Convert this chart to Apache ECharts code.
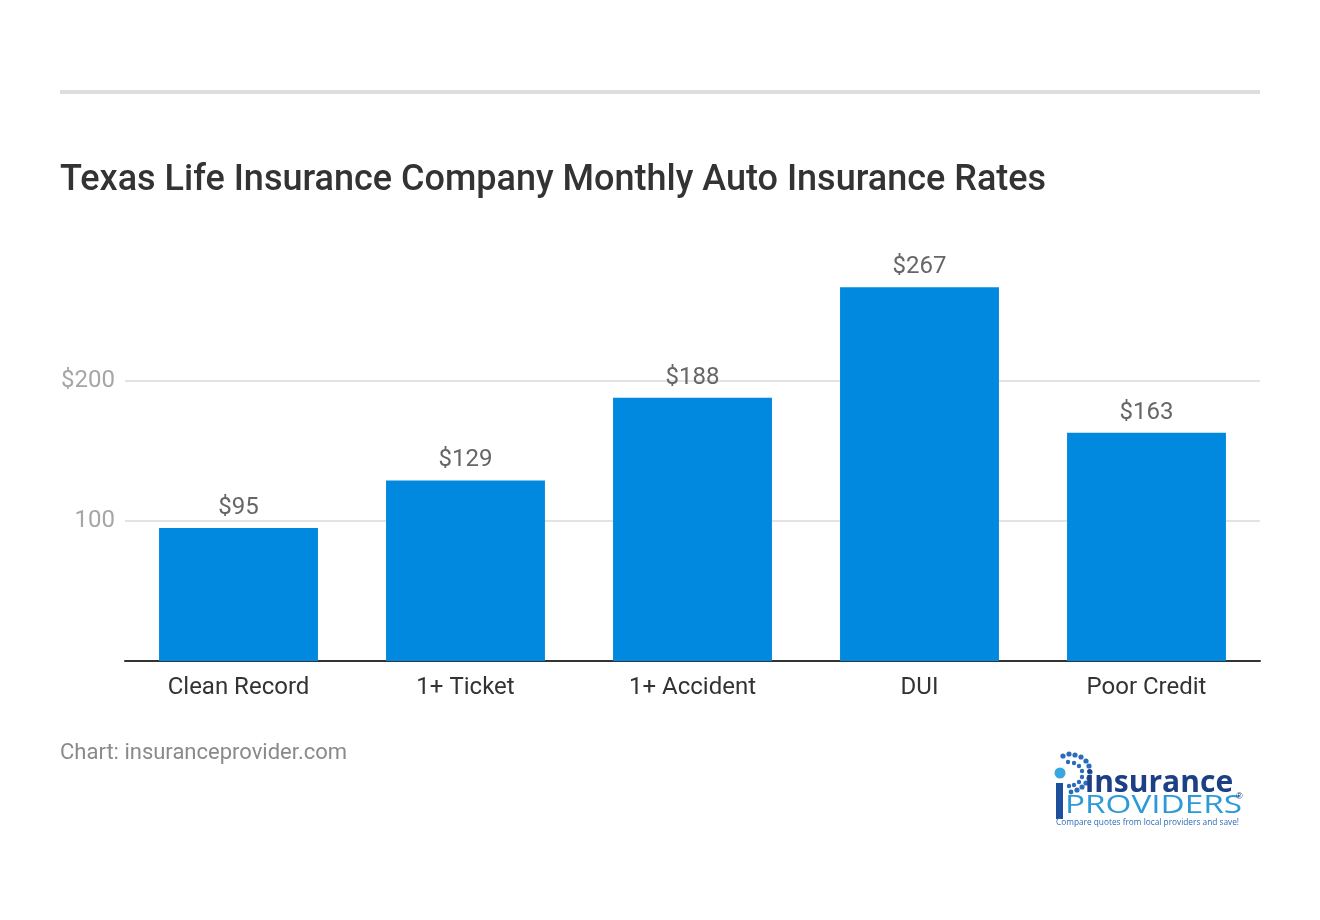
<!DOCTYPE html>
<html>
<head>
<meta charset="utf-8">
<script src="https://cdn.jsdelivr.net/npm/echarts@6/dist/echarts.min.js"></script>
<style>
html,body{margin:0;padding:0;background:#fff;}
#c{width:1320px;height:920px;}
</style>
</head>
<body>
<div id="c"></div>
<script>
const categories = ['Clean Record', '1+ Ticket', '1+ Accident', 'DUI', 'Poor Credit'];
const rates = [95, 129, 188, 267, 163];
const valueLabels = ['$95', '$129', '$188', '$267', '$163'];
const yTickLabels = {100: '100', 200: '$200'};

const chart = echarts.init(document.getElementById('c'));

// decorative dots of the logo "P"
const dots = [
  [1063,756,2.6],[1069,754,2.6],[1075,755,2.6],[1081,757,2.6],[1086,761,2.6],
  [1089,766,2.6],[1090,772,2.6],[1089,778,2.6],[1086,783,2.6],[1082,787,2.6],
  [1077,790,2.6],[1071,792,2.4],[1068,762,2.2],[1074,763,2.2],[1079,766,2.2],
  [1082,771,2.2],[1082,777,2.2],[1079,782,2.2],[1074,785,2.2],[1069,786,2.2]
];
const logoGraphics = dots.map(d => ({
  type: 'circle', shape: {cx: d[0], cy: d[1], r: d[2]},
  style: {fill: '#2b6cb8'}
}));
logoGraphics.push(
  {type: 'circle', shape: {cx: 1060, cy: 773, r: 5.5}, style: {fill: '#3aa6e0'}},
  {type: 'rect', shape: {x: 1056, y: 783, width: 7, height: 36}, style: {fill: '#1d4f9a'}},
  {type: 'text', x: 1085, y: 798, scaleX: 1.0, style: {text: 'insurance', font: 'bold 30px "Open Sans", sans-serif', fill: '#1d3f86', textVerticalAlign: 'bottom'}},
  {type: 'text', x: 1065, y: 819, scaleX: 1.28, style: {text: 'PROVIDERS', font: '26px "Open Sans", sans-serif', fill: '#2c9ad8', textVerticalAlign: 'bottom'}},
  {type: 'text', x: 1236, y: 792, style: {text: '®', font: '9px sans-serif', fill: '#1d3f86'}},
  {type: 'text', x: 1056, y: 819, style: {text: 'Compare quotes from local providers and save!', font: '8.3px "Open Sans", sans-serif', fill: '#2c6cb8'}}
);

chart.setOption({
  animation: false,
  backgroundColor: '#ffffff',
  textStyle: {fontFamily: 'Roboto, sans-serif'},
  title: {
    text: 'Texas Life Insurance Company Monthly Auto Insurance Rates',
    left: 60, top: 163, padding: 0,
    textStyle: {fontFamily: 'Roboto, sans-serif', fontSize: 36, fontWeight: 500, color: '#333333'}
  },
  graphic: [
    {type: 'rect', shape: {x: 60, y: 90, width: 1200, height: 4}, style: {fill: '#dddddd'}},
    {type: 'text', x: 60, y: 753, style: {text: 'Chart: insuranceprovider.com', font: '22px Roboto, sans-serif', fill: '#8a8a8a', textVerticalAlign: 'middle'}}
  ].concat(logoGraphics),
  grid: {left: 125, right: 60, top: 269, bottom: 259, containLabel: false},
  xAxis: {
    type: 'category',
    data: categories,
    axisLine: {lineStyle: {color: '#333333', width: 2}},
    axisTick: {show: false},
    axisLabel: {color: '#333333', fontSize: 24, margin: 15, fontFamily: 'Roboto, sans-serif'}
  },
  yAxis: {
    type: 'value',
    min: 0, max: 280, interval: 100,
    axisLine: {show: false},
    axisTick: {show: false},
    splitLine: {lineStyle: {color: '#e3e3e3', width: 2}, showMinLine: false, showMaxLine: false},
    axisLabel: {
      color: '#a6a6a6', fontSize: 24, margin: 10, fontFamily: 'Roboto, sans-serif',
      padding: [4, 0, 0, 0],
      showMaxLabel: false,
      formatter: v => yTickLabels[v] || ''
    }
  },
  series: [{
    type: 'bar',
    data: rates,
    barWidth: '70%',
    itemStyle: {color: '#0089df'},
    label: {
      show: true, position: 'top', distance: 8,
      color: '#666666', fontSize: 24, fontFamily: 'Roboto, sans-serif',
      formatter: p => valueLabels[p.dataIndex]
    }
  }]
});
</script>
</body>
</html>
